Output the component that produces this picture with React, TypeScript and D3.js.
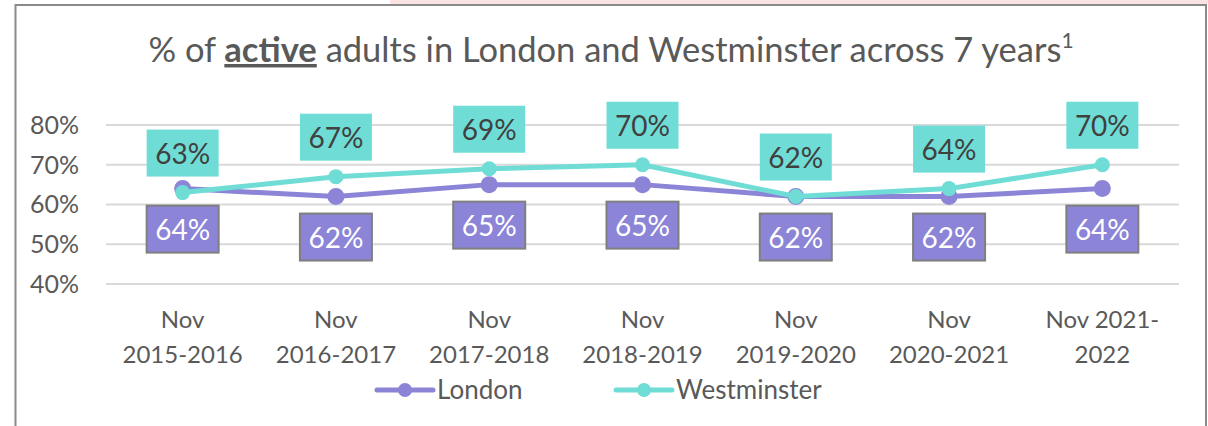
import React from "react";
import * as d3 from "d3";

const categories: string[][] = [
  ["Nov", "2015-2016"],
  ["Nov", "2016-2017"],
  ["Nov", "2017-2018"],
  ["Nov", "2018-2019"],
  ["Nov", "2019-2020"],
  ["Nov", "2020-2021"],
  ["Nov 2021-", "2022"],
];
const londonValues = [64, 62, 65, 65, 62, 62, 64];
const westminsterValues = [63, 67, 69, 70, 62, 64, 70];
const yTicks = [40, 50, 60, 70, 80];

const W = 1208;
const H = 426;
const TEAL = "#6fddd5";
const PURPLE = "#8b84d7";
const TEXT = "#595959";
const FONT = "Lato, 'Open Sans', sans-serif";

export default function App() {
  const keys = categories.map((_, i) => String(i));
  const x = d3.scaleBand<string>().domain(keys).range([106, 1179]);
  const y = d3.scaleLinear().domain([40, 80]).range([284, 125]);
  const cx = (i: number) => (x(String(i)) as number) + x.bandwidth() / 2;
  const line = d3
    .line<number>()
    .x((_, i) => cx(i))
    .y((d) => y(d));

  const boxW = 72;
  const boxH = 47;

  return (
    <svg
      width={W}
      height={H}
      style={{ position: "absolute", left: 0, top: 0, background: "#fff" }}
      fontFamily={FONT}
    >
      {/* pink strip and frame */}
      <rect x={390} y={0} width={W - 390} height={4} fill="#fce3e3" />
      <path
        d={`M15.5,${H} L15.5,5 L1206,5 L1206,${H}`}
        fill="none"
        stroke="#8a8a8a"
        strokeWidth={2}
      />

      {/* title */}
      <text x={611} y={62} textAnchor="middle" fontSize={34.5} fill={TEXT}>
        <tspan>% of </tspan>
        <tspan fontWeight="bold" textDecoration="underline">
          active
        </tspan>
        <tspan> adults in London and Westminster across 7 years</tspan>
        <tspan fontSize={21} dy={-14}>
          1
        </tspan>
      </text>

      {/* gridlines */}
      {yTicks.map((t) => (
        <g key={t}>
          <line
            x1={106}
            x2={1179}
            y1={y(t)}
            y2={y(t)}
            stroke="#d9d9d9"
            strokeWidth={2}
          />
          <text
            x={79}
            y={y(t)}
            dy="0.35em"
            textAnchor="end"
            fontSize={25}
            fill={TEXT}
          >
            {t}%
          </text>
        </g>
      ))}

      {/* x labels */}
      {categories.map((c, i) => (
        <text
          key={i}
          x={cx(i)}
          y={328}
          textAnchor="middle"
          fontSize={24}
          fill={TEXT}
        >
          <tspan x={cx(i)}>{c[0]}</tspan>
          <tspan x={cx(i)} dy={35}>
            {c[1]}
          </tspan>
        </text>
      ))}

      {/* London series */}
      <path
        d={line(londonValues) || ""}
        fill="none"
        stroke={PURPLE}
        strokeWidth={5}
        strokeLinejoin="round"
      />
      {londonValues.map((v, i) => (
        <circle key={i} cx={cx(i)} cy={y(v)} r={8.5} fill={PURPLE} />
      ))}

      {/* Westminster series */}
      <path
        d={line(westminsterValues) || ""}
        fill="none"
        stroke={TEAL}
        strokeWidth={5}
        strokeLinejoin="round"
      />
      {westminsterValues.map((v, i) => (
        <circle key={i} cx={cx(i)} cy={y(v)} r={7.5} fill={TEAL} />
      ))}

      {/* Westminster labels */}
      {westminsterValues.map((v, i) => (
        <g key={i}>
          <rect
            x={cx(i) - boxW / 2}
            y={y(v) - 16 - boxH}
            width={boxW}
            height={boxH}
            fill={TEAL}
          />
          <text
            x={cx(i)}
            y={y(v) - 16 - boxH / 2}
            dy="0.38em"
            textAnchor="middle"
            fontSize={28}
            fill="#404040"
          >
            {v}%
          </text>
        </g>
      ))}

      {/* London labels */}
      {londonValues.map((v, i) => (
        <g key={i}>
          <rect
            x={cx(i) - boxW / 2}
            y={y(v) + 17}
            width={boxW}
            height={boxH}
            fill={PURPLE}
            stroke="#7f7f7f"
            strokeWidth={2}
          />
          <text
            x={cx(i)}
            y={y(v) + 17 + boxH / 2}
            dy="0.38em"
            textAnchor="middle"
            fontSize={28}
            fill="#ffffff"
          >
            {v}%
          </text>
        </g>
      ))}

      {/* legend */}
      <g>
        <line x1={377} x2={433} y1={390} y2={390} stroke={PURPLE} strokeWidth={5} strokeLinecap="round" />
        <circle cx={405} cy={390} r={7} fill={PURPLE} />
        <text x={437} y={390} dy="0.36em" fontSize={26} fill={TEXT}>
          London
        </text>
        <line x1={616} x2={672} y1={390} y2={390} stroke={TEAL} strokeWidth={5} strokeLinecap="round" />
        <circle cx={644} cy={390} r={7} fill={TEAL} />
        <text x={676} y={390} dy="0.36em" fontSize={26} fill={TEXT}>
          Westminster
        </text>
      </g>
    </svg>
  );
}
